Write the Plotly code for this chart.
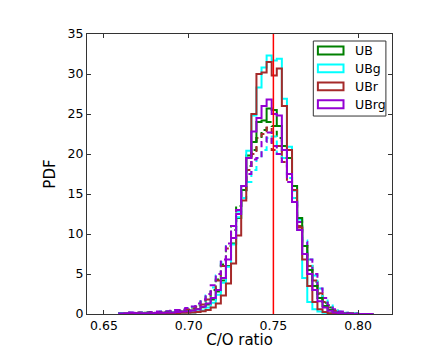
# Histogramas de la razon C/O (PDF) para UB, UBg, UBr, UBrg
import numpy as np
import plotly.graph_objects as go

# bordes de los bins (50 bins de 0.003 entre 0.659 y 0.809)
bordes = np.round(0.659 + 0.003 * np.arange(51), 4)

nombres = ["UB", "UBg", "UBr", "UBrg"]
colores = ["green", "cyan", "#a52a2a", "darkviolet"]

# PDF, caso 1 (linea continua)
ub_solido = [0.05, 0.1, 0.1, 0.05, 0.1, 0.15, 0.1, 0.1, 0.15, 0.2,
             0.2, 0.25, 0.3, 0.35, 0.45, 0.6, 0.85, 1.2, 1.8, 2.8,
             4.2, 6.0, 8.8, 12.0, 15.5, 19.8, 21.5, 24.0, 24.2, 25.7,
             25.5, 23.5, 21.0, 19.5, 16.0, 12.0, 8.5, 5.5, 3.5, 2.0,
             1.0, 0.5, 0.2, 0.1, 0.05, 0.05, 0.0, 0.0, 0.0, 0.0]
ubg_solido = [0.05, 0.1, 0.05, 0.05, 0.1, 0.05, 0.05, 0.1, 0.1, 0.1,
              0.15, 0.1, 0.15, 0.2, 0.2, 0.3, 0.45, 0.8, 1.4, 2.4,
              3.9, 5.9, 8.7, 12.1, 16.0, 20.4, 24.8, 28.3, 30.8, 32.3,
              31.7, 31.9, 26.9, 20.9, 15.4, 10.5, 4.5, 1.5, 0.6, 0.3,
              0.15, 0.1, 0.05, 0.05, 0.0, 0.0, 0.0, 0.0, 0.0, 0.0]
ubr_solido = [0.0, 0.05, 0.05, 0.1, 0.05, 0.05, 0.1, 0.05, 0.1, 0.1,
              0.1, 0.1, 0.15, 0.15, 0.2, 0.25, 0.35, 0.5, 0.8, 1.3,
              2.3, 3.8, 6.3, 9.8, 14.2, 19.5, 25.0, 30.0, 30.2, 31.5,
              29.8, 30.7, 26.0, 20.5, 15.5, 10.8, 6.8, 3.5, 1.5, 0.6,
              0.25, 0.1, 0.05, 0.05, 0.0, 0.0, 0.0, 0.0, 0.0, 0.0]
ubrg_solido = [0.05, 0.1, 0.15, 0.1, 0.1, 0.1, 0.1, 0.15, 0.15, 0.2,
               0.2, 0.25, 0.3, 0.35, 0.45, 0.6, 0.9, 1.3, 2.0, 3.0,
               4.5, 6.8, 9.5, 12.5, 16.0, 19.5, 22.8, 24.5, 26.0, 26.8,
               25.0, 24.8, 20.5, 17.5, 14.0, 10.5, 7.5, 5.0, 3.0, 1.6,
               0.8, 0.4, 0.2, 0.1, 0.05, 0.05, 0.0, 0.0, 0.0, 0.0]

# PDF, caso 2 (linea discontinua)
ub_guion = [0.1, 0.15, 0.1, 0.15, 0.2, 0.15, 0.2, 0.2, 0.25, 0.3,
            0.35, 0.4, 0.5, 0.6, 0.8, 1.1, 1.5, 2.1, 3.0, 4.3,
            6.2, 8.5, 11.0, 13.5, 16.0, 18.5, 20.5, 22.0, 23.0, 24.0,
            23.5, 22.0, 19.5, 17.5, 14.5, 11.5, 8.5, 6.0, 4.0, 2.5,
            1.4, 0.8, 0.4, 0.2, 0.1, 0.05, 0.05, 0.0, 0.0, 0.0]
ubg_guion = [0.1, 0.1, 0.15, 0.1, 0.15, 0.2, 0.2, 0.25, 0.3, 0.3,
             0.35, 0.45, 0.55, 0.7, 0.9, 1.2, 1.6, 2.3, 3.3, 4.8,
             6.5, 8.5, 10.5, 12.8, 14.5, 16.5, 18.0, 19.5, 20.5, 22.0,
             22.2, 20.0, 19.5, 17.0, 14.5, 11.8, 9.2, 6.8, 4.8, 3.2,
             2.0, 1.2, 0.6, 0.3, 0.15, 0.08, 0.05, 0.0, 0.0, 0.0]
ubr_guion = [0.05, 0.1, 0.1, 0.15, 0.1, 0.15, 0.2, 0.2, 0.2, 0.25,
             0.3, 0.35, 0.45, 0.55, 0.7, 0.9, 1.2, 1.8, 2.8, 4.2,
             6.0, 8.2, 10.5, 13.0, 15.5, 18.0, 20.0, 22.0, 22.5, 23.3,
             20.5, 21.0, 19.0, 16.5, 14.0, 11.0, 8.5, 6.0, 4.2, 2.6,
             1.5, 0.8, 0.4, 0.2, 0.1, 0.05, 0.0, 0.0, 0.0, 0.0]
ubrg_guion = [0.1, 0.15, 0.2, 0.15, 0.2, 0.2, 0.25, 0.3, 0.3, 0.35,
              0.4, 0.5, 0.6, 0.75, 0.95, 1.3, 1.8, 2.5, 3.6, 5.0,
              6.8, 8.8, 11.0, 13.0, 15.5, 17.5, 19.3, 19.5, 21.5, 22.7,
              21.0, 20.0, 19.0, 16.5, 14.0, 11.5, 9.0, 6.8, 5.0, 3.2,
              2.0, 1.1, 0.6, 0.3, 0.15, 0.05, 0.05, 0.0, 0.0, 0.0]

co_verdadero = 0.75

solidos = [ub_solido, ubg_solido, ubr_solido, ubrg_solido]
guiones = [ub_guion, ubg_guion, ubr_guion, ubrg_guion]

fig = go.Figure()

def escalon(valores, color, dash):
    # histograma tipo "step" de matplotlib
    x = [bordes[0]] + list(bordes)
    y = [0] + list(valores) + [0]
    fig.add_trace(go.Scatter(x=x, y=y, mode="lines", line_shape="hv",
                             line=dict(color=color, width=2, dash=dash),
                             showlegend=False, hoverinfo="skip"))

for vals, col in zip(guiones, colores):
    escalon(vals, col, "6px,4px")
for vals, col in zip(solidos, colores):
    escalon(vals, col, "solid")

fig.add_vline(x=co_verdadero, line_color="#ff0000", line_width=1.5, layer="above")

# leyenda a mano (parches rectangulares como matplotlib)
fig.add_shape(type="rect", xref="paper", yref="paper", x0=0.742, x1=0.980,
              y0=0.707, y1=0.975, line=dict(color="#333", width=1),
              fillcolor="white", layer="above")
for i, (nom, col) in enumerate(zip(nombres, colores)):
    yc = 0.941 - i * 0.064
    fig.add_shape(type="rect", xref="paper", yref="paper", x0=0.757, x1=0.841,
                  y0=yc - 0.014, y1=yc + 0.014, line=dict(color=col, width=2),
                  fillcolor="white", layer="above")
    fig.add_annotation(x=0.872, y=yc, xref="paper", yref="paper", text=nom,
                       showarrow=False, xanchor="left", yanchor="middle",
                       font=dict(size=12.5, color="black"))

eje = dict(showline=True, linecolor="#333", linewidth=1, mirror="allticks",
           ticks="inside", ticklen=4, tickcolor="#333", showgrid=False,
           zeroline=False, tickfont=dict(size=12.5, color="black"))

fig.update_layout(
    width=436, height=349,
    margin=dict(l=87, r=44, t=34, b=35),
    plot_bgcolor="white", paper_bgcolor="white",
    font=dict(family="DejaVu Sans", size=12.5, color="black"),
    xaxis=dict(eje, range=[0.64, 0.82], tickvals=[0.65, 0.70, 0.75, 0.80],
               ticktext=["0.65", "0.70", "0.75", "0.80"],
               title=dict(text="C/O ratio", standoff=2), automargin=False),
    yaxis=dict(eje, range=[0, 35], dtick=5,
               title=dict(text="PDF", standoff=8), automargin=False),
)

# sin margen del body para que la figura ocupe la ventana exacta
fig.write_html("out.html", config={"displayModeBar": False},
               post_script="document.body.style.margin='0';")
